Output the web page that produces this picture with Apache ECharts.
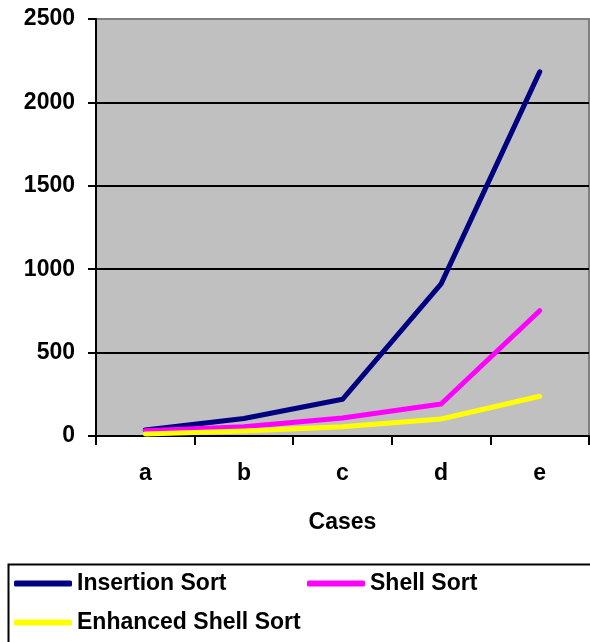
<!DOCTYPE html>
<html>
<head>
<meta charset="utf-8">
<script src="https://cdn.jsdelivr.net/npm/echarts@6/dist/echarts.min.js"></script>
<style>
  html, body { margin: 0; padding: 0; background: #fff; }
  #myChart { width: 590px; height: 642px; }
</style>
</head>
<body>
<div id="myChart"></div>
<script>
// 数据
const cases = ['a', 'b', 'c', 'd', 'e'];
const insertionSort = [36, 105, 220, 912, 2183];
const shellSort = [32, 55, 108, 192, 751];
const enhancedShellSort = [12, 30, 56, 102, 238];
const yTicks = [0, 500, 1000, 1500, 2000, 2500];

const font = "'Liberation Sans', Arial, sans-serif";
const textStyle = { fontFamily: font, fontWeight: 'bold', fontSize: 23, color: '#000' };

let myChart = echarts.init(document.getElementById('myChart'));

function lineSeries(name, data, color) {
  return {
    name: name,
    type: 'line',
    data: data,
    symbol: 'none',
    showSymbol: false,
    animation: false,
    lineStyle: { color: color, width: 5, cap: 'round', join: 'round' },
    itemStyle: { color: color }
  };
}

function legendAt(name, left, top) {
  return {
    data: [name],
    left: left,
    top: top,
    padding: 0,
    icon: 'roundRect',
    itemWidth: 58,
    itemHeight: 6,
    itemGap: 0,
    textStyle: textStyle,
    selectedMode: false
  };
}

myChart.setOption({
  backgroundColor: '#fff',
  animation: false,
  grid: {
    show: true,
    left: 96,
    right: 1,
    top: 19,
    bottom: 206,
    backgroundColor: '#c0c0c0',
    borderColor: '#808080',
    borderWidth: 2
  },
  xAxis: {
    type: 'category',
    data: cases,
    boundaryGap: true,
    name: 'Cases',
    nameLocation: 'middle',
    nameGap: 75,
    nameTextStyle: textStyle,
    axisLine: { lineStyle: { color: '#000', width: 2 } },
    axisTick: { show: true, length: 9, lineStyle: { color: '#000', width: 2 } },
    axisLabel: Object.assign({ margin: 26 }, textStyle),
    splitLine: { show: false }
  },
  yAxis: {
    type: 'value',
    min: yTicks[0],
    max: yTicks[yTicks.length - 1],
    interval: 500,
    axisLine: { show: true, lineStyle: { color: '#000', width: 2 } },
    axisTick: { show: true, length: 8, lineStyle: { color: '#000', width: 2 } },
    axisLabel: Object.assign({ margin: 21, formatter: v => String(v) }, textStyle),
    splitLine: {
      show: true,
      lineStyle: { color: ['#000', '#000', '#000', '#000', '#000', '#808080'], width: 2 }
    }
  },
  legend: [
    legendAt('Insertion Sort', 14, 572),
    legendAt('Shell Sort', 307, 572),
    legendAt('Enhanced Shell Sort', 14, 611)
  ],
  graphic: [{
    type: 'rect',
    left: 6,
    top: 562,
    shape: { width: 600, height: 100 },
    style: { fill: 'none', stroke: '#000', lineWidth: 2 },
    z: -1
  }],
  series: [
    lineSeries('Insertion Sort', insertionSort, '#000080'),
    lineSeries('Shell Sort', shellSort, '#ff00ff'),
    lineSeries('Enhanced Shell Sort', enhancedShellSort, '#ffff00')
  ]
});
</script>
</body>
</html>
